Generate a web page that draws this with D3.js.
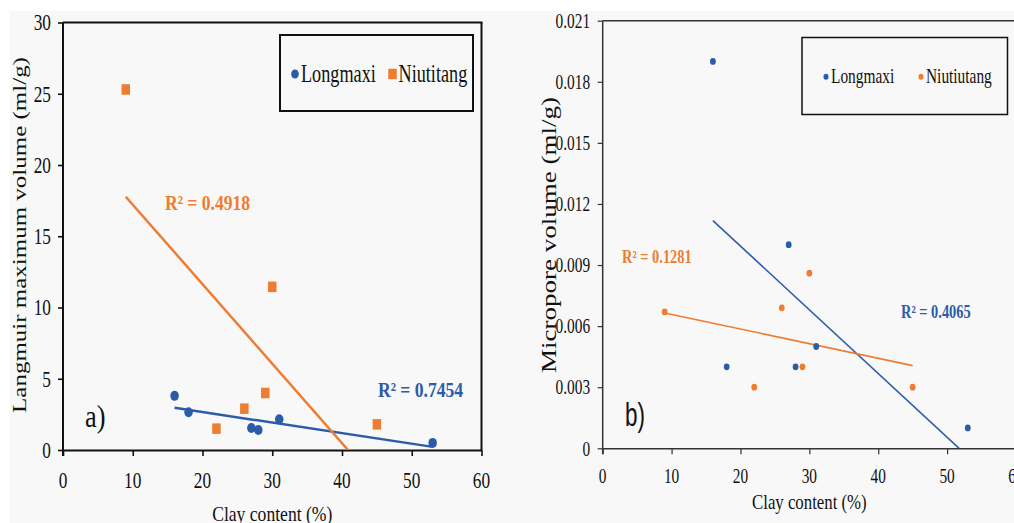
<!DOCTYPE html>
<html>
<head>
<meta charset="utf-8">
<script src="https://cdnjs.cloudflare.com/ajax/libs/d3/7.8.5/d3.min.js"></script>
<style>
  body { margin:0; background:#fff; overflow:hidden; }
  text { font-family:"Liberation Serif", "Times New Roman", serif; }
</style>
</head>
<body>
<div id="chart"></div>
<script>
// ---- data ----
var clayA_lmx = [16, 18, 27, 28, 31, 53];
var langmuir_lmx = [3.8, 2.65, 1.55, 1.4, 2.15, 0.5];
var clayA_ntg = [9, 22, 26, 29, 30, 45];
var langmuir_ntg = [25.3, 1.5, 2.9, 4.0, 11.45, 1.8];

var clayB_lmx = [16, 18, 27, 28, 31, 53];
var micro_lmx = [0.019, 0.004, 0.010, 0.004, 0.005, 0.001];
var clayB_ntg = [9, 22, 26, 29, 30, 45];
var micro_ntg = [0.0067, 0.003, 0.0069, 0.004, 0.0086, 0.003];

var r2A = ["R² = 0.7454", "R² = 0.4918"];   // Longmaxi, Niutitang
var r2B = ["R² = 0.4065", "R² = 0.1281"];   // Longmaxi, Niutiutang
var legendA = ["Longmaxi", "Niutitang"];
var legendB = ["Longmaxi", "Niutiutang"];
var xTicks = [0, 10, 20, 30, 40, 50, 60];
var yTicksA = [0, 5, 10, 15, 20, 25, 30];
var yTicksB = [0, 0.003, 0.006, 0.009, 0.012, 0.015, 0.018, 0.021];

var blue = "#2b5ca8", orange = "#ed7d31";

var W = 1014, H = 523;
var svg = d3.select("#chart").append("svg").attr("width", W).attr("height", H);
svg.append("rect").attr("x", 10).attr("y", 11).attr("width", W - 10).attr("height", H - 11).attr("fill", "#f8f8f8");

// text helper: condensed glyphs like the scanned figure
function txt(g, x, y, s, size, sx, opt) {
  opt = opt || {};
  var t = g.append("text")
    .attr("transform", opt.rot ? "translate(" + x + "," + y + ") rotate(-90) scale(1," + sx + ")"
                               : "translate(" + x + "," + y + ") scale(" + sx + ",1)")
    .attr("font-size", size)
    .attr("text-anchor", opt.anchor || "start")
    .attr("fill", opt.color || "#111")
    .attr("font-weight", opt.bold ? "bold" : "normal")
    .text(s);
  if (opt.family) t.style("font-family", opt.family);
  return t;
}

// least squares fit from the points
function fit(xs, ys) {
  var mx = d3.mean(xs), my = d3.mean(ys), sxy = 0, sxx = 0;
  xs.forEach(function(x, i) { sxy += (x - mx) * (ys[i] - my); sxx += (x - mx) * (x - mx); });
  var b = sxy / sxx;
  return { b: b, a: my - b * mx };
}

function panel(cfg) {
  var x = d3.scaleLinear().domain([0, 60]).range(cfg.xr);
  var y = d3.scaleLinear().domain(cfg.yd).range(cfg.yr);
  var g = svg.append("g");

  var clipId = "clip" + cfg.id;
  svg.append("clipPath").attr("id", clipId).append("rect")
    .attr("x", cfg.xr[0]).attr("y", cfg.yr[1]).attr("width", cfg.xr[1] - cfg.xr[0]).attr("height", cfg.yr[0] - cfg.yr[1]);

  // frame top / right
  g.append("line").attr("x1", cfg.xr[0]).attr("x2", cfg.xr[1] + 1).attr("y1", cfg.yr[1]).attr("y2", cfg.yr[1])
    .attr("stroke", cfg.axisColor).attr("stroke-width", cfg.sw);
  g.append("line").attr("x1", cfg.xr[1]).attr("x2", cfg.xr[1]).attr("y1", cfg.yr[1]).attr("y2", cfg.yr[0])
    .attr("stroke", cfg.axisColor).attr("stroke-width", cfg.sw);

  // axes
  var xa = g.append("g").attr("transform", "translate(0," + cfg.yr[0] + ")")
    .call(d3.axisBottom(x).tickValues(xTicks).tickSize(6).tickSizeOuter(0).tickFormat(""));
  var ya = g.append("g").attr("transform", "translate(" + cfg.xr[0] + ",0)")
    .call(d3.axisLeft(y).tickValues(cfg.yTicks).tickSize(5).tickSizeOuter(0).tickFormat(""));
  [xa, ya].forEach(function(a) {
    a.select(".domain").attr("stroke", cfg.axisColor).attr("stroke-width", cfg.sw);
    a.selectAll(".tick line").attr("stroke", cfg.axisColor).attr("stroke-width", cfg.sw * 0.8);
  });
  ya.select(".domain").attr("d", "M0," + (cfg.yr[0] + 6) + "V" + cfg.yr[1]);

  xTicks.forEach(function(v) {
    txt(g, x(v), cfg.yr[0] + cfg.xLabOff, String(v), cfg.tickSize, cfg.tickSx, { anchor: "middle" });
  });
  cfg.yTicks.forEach(function(v) {
    txt(g, cfg.xr[0] - cfg.yLabGap, y(v) + cfg.tickSize * 0.33, cfg.fmt(v), cfg.tickSize, cfg.tickSx, { anchor: "end" });
  });

  // titles
  txt(g, (cfg.xr[0] + cfg.xr[1]) / 2, cfg.xTitleY, "Clay content (%)", cfg.titleSize, 0.8, { anchor: "middle" });
  txt(g, cfg.yTitleX, cfg.yTitleY, cfg.yTitle, cfg.yTitleSize, 0.75, { anchor: "middle", rot: true });

  // trend lines
  cfg.series.forEach(function(s) {
    var f = fit(s.xs, s.ys);
    var x0 = d3.min(s.xs), x1 = d3.max(s.xs);
    g.append("line").attr("clip-path", "url(#" + clipId + ")")
      .attr("x1", x(x0)).attr("y1", y(f.a + f.b * x0))
      .attr("x2", x(x1)).attr("y2", y(f.a + f.b * x1))
      .attr("stroke", s.color).attr("stroke-width", cfg.lw);
  });

  // points
  cfg.series.forEach(function(s) {
    s.xs.forEach(function(v, i) {
      if (s.shape === "square") {
        g.append("rect").attr("x", x(v) - cfg.sq[0] / 2).attr("y", y(s.ys[i]) - cfg.sq[1] / 2)
          .attr("width", cfg.sq[0]).attr("height", cfg.sq[1]).attr("fill", s.color);
      } else {
        g.append("ellipse").attr("cx", x(v)).attr("cy", y(s.ys[i]))
          .attr("rx", cfg.r * 0.85).attr("ry", cfg.r).attr("fill", s.color);
      }
    });
  });

  // R² labels
  cfg.series.forEach(function(s) {
    txt(g, s.lab[0], s.lab[1], s.r2, cfg.r2Size, 0.8, { color: s.color, bold: true });
  });

  // legend
  var L = cfg.legend;
  g.append("rect").attr("x", L.x).attr("y", L.y).attr("width", L.w).attr("height", L.h)
    .attr("fill", "none").attr("stroke", "#111").attr("stroke-width", cfg.sw);
  cfg.series.forEach(function(s, i) {
    var mx = L.items[i];
    if (s.shape === "square") {
      g.append("rect").attr("x", mx - cfg.sq[0] / 2).attr("y", L.my - cfg.sq[1] / 2)
        .attr("width", cfg.sq[0]).attr("height", cfg.sq[1]).attr("fill", s.color);
    } else {
      g.append("ellipse").attr("cx", mx).attr("cy", L.my).attr("rx", L.r * 0.85).attr("ry", L.r).attr("fill", s.color);
    }
    txt(g, mx + L.gap, L.base, s.name, L.size, 0.7);
  });

  // panel letter
  txt(g, cfg.tag.x, cfg.tag.y, cfg.tag.s, cfg.tag.size, cfg.tag.sx, { family: cfg.tag.family });
}

panel({
  id: "A", xr: [63, 481.5], yd: [0, 30], yr: [450, 22.5], yTicks: yTicksA,
  fmt: function(v) { return String(v); },
  axisColor: "#111", sw: 2, lw: 2.5, r: 5, sq: [8.5, 10.5],
  tickSize: 24, tickSx: 0.72, xLabOff: 38, yLabGap: 12,
  titleSize: 22, xTitleY: 521,
  yTitle: "Langmuir maximum volume (ml/g)", yTitleX: 26, yTitleY: 235, yTitleSize: 25,
  r2Size: 22,
  series: [
    { name: legendA[0], xs: clayA_lmx, ys: langmuir_lmx, color: blue, shape: "circle", r2: r2A[0], lab: [378, 397] },
    { name: legendA[1], xs: clayA_ntg, ys: langmuir_ntg, color: orange, shape: "square", r2: r2A[1], lab: [165, 210] }
  ],
  legend: { x: 280, y: 35, w: 193, h: 76, items: [295, 392.5], my: 74, base: 82, gap: 6, size: 26, r: 4.5 },
  tag: { x: 85, y: 427, s: "a)", size: 31, sx: 0.85 }
});

panel({
  id: "B", xr: [602.7, 1016], yd: [0, 0.021], yr: [448.3, 20.7], yTicks: yTicksB,
  fmt: function(v) { return v === 0 ? "0" : v.toFixed(3); },
  axisColor: "#333", sw: 1.5, lw: 1.6, r: 3.4, sq: [7, 7],
  tickSize: 22, tickSx: 0.7, xLabOff: 35, yLabGap: 12.5,
  titleSize: 21, xTitleY: 509,
  yTitle: "Micropore volume (ml/g)", yTitleX: 556, yTitleY: 235, yTitleSize: 27,
  r2Size: 18,
  series: [
    { name: legendB[0], xs: clayB_lmx, ys: micro_lmx, color: blue, shape: "circle", r2: r2B[0], lab: [901, 318] },
    { name: legendB[1], xs: clayB_ntg, ys: micro_ntg, color: orange, shape: "circle", r2: r2B[1], lab: [622, 263] }
  ],
  legend: { x: 802, y: 37.5, w: 205.5, h: 77, items: [826, 921], my: 76.7, base: 83, gap: 5, size: 22, r: 3 },
  tag: { x: 625, y: 426, s: "b)", size: 34, sx: 0.66, family: "'Liberation Sans', Arial, sans-serif" }
});
</script>
</body>
</html>
